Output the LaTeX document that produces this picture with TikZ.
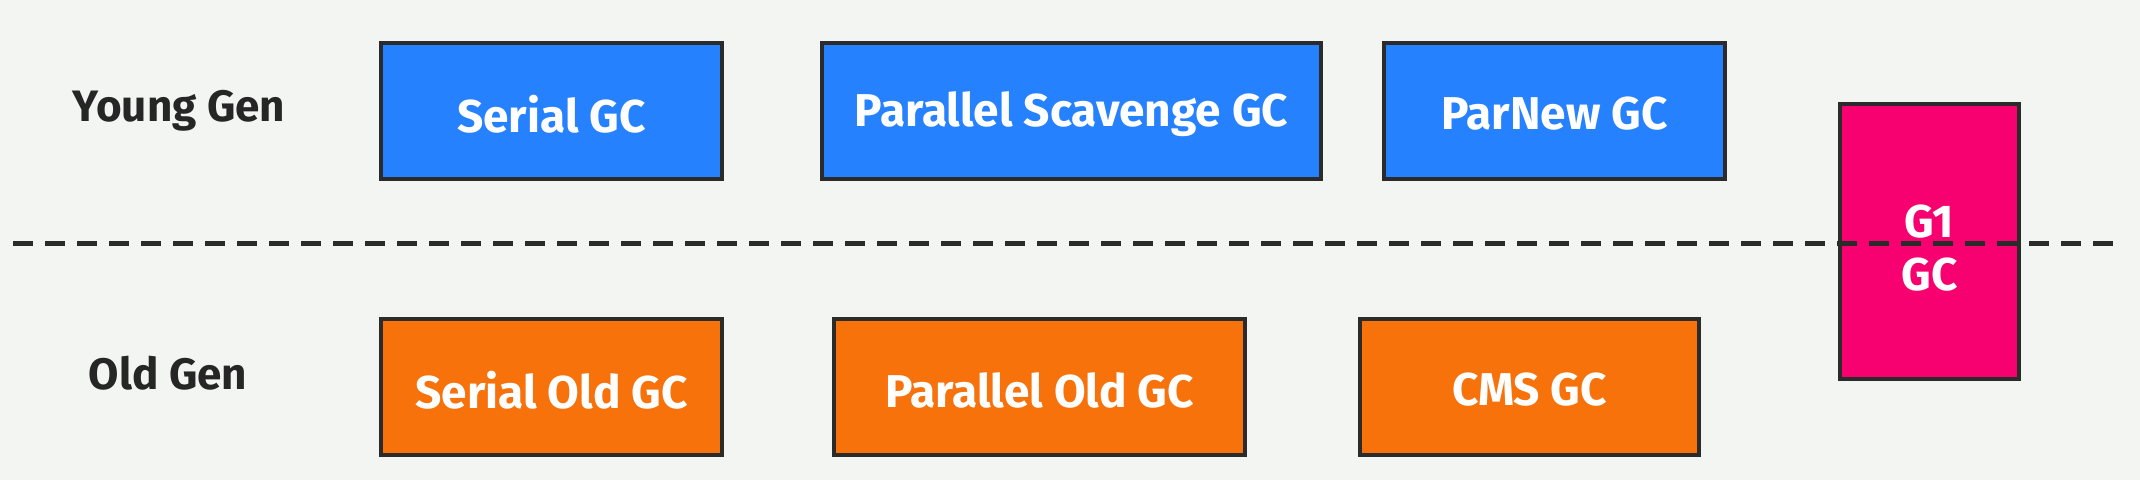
\documentclass[tikz,border=0pt]{standalone}
\usepackage{fontspec}
\setmainfont{Fira Sans}[BoldFont={Fira Sans Bold}]
\definecolor{bgc}{HTML}{F3F5F3}
\definecolor{youngc}{HTML}{2681FF}
\definecolor{oldc}{HTML}{F8720B}
\definecolor{gonec}{HTML}{F7006F}
\definecolor{edgec}{HTML}{2B2B2B}
\begin{document}
\begin{tikzpicture}[x=1pt,y=-1pt,
  gcbox/.style={draw=edgec,line width=3.5pt,inner sep=0pt},
  gctext/.style={text=white,font=\fontsize{46}{53}\selectfont\bfseries,align=center,inner sep=0pt},
  genlabel/.style={text=black!85,font=\fontsize{44}{50}\selectfont\bfseries,inner sep=0pt}]
\fill[bgc] (0,0) rectangle (2140,480);
\useasboundingbox (0,0) rectangle (2140,480);
\coordinate (dl) at (13,243);
\coordinate (dr) at (2124,243);
% boxes
\node[gcbox,fill=youngc,minimum width=341pt,minimum height=136pt] (serial) at (551.5,111) {};
\node[gcbox,fill=youngc,minimum width=499pt,minimum height=136pt] (ps) at (1071.5,111) {};
\node[gcbox,fill=youngc,minimum width=341pt,minimum height=136pt] (parnew) at (1554.5,111) {};
\node[gcbox,fill=oldc,minimum width=341pt,minimum height=136pt] (serialold) at (551.5,387) {};
\node[gcbox,fill=oldc,minimum width=411pt,minimum height=136pt] (parold) at (1039.5,387) {};
\node[gcbox,fill=oldc,minimum width=339pt,minimum height=136pt] (cms) at (1529.5,387) {};
\node[gcbox,fill=gonec,minimum width=179pt,minimum height=275pt] (g1) at (1929.5,241.5) {};
\node[gctext] (t1) at ([yshift=-3pt]serial.center) {Serial GC};
\node[gctext] (t2) at ([yshift=-3pt]ps.center) {Parallel Scavenge GC};
\node[gctext] (t3) at ([yshift=-3pt]parnew.center) {ParNew GC};
\node[gctext] (t4) at ([yshift=-3pt]serialold.center) {Serial Old GC};
\node[gctext] (t5) at ([yshift=-3pt]parold.center) {Parallel Old GC};
\node[gctext] (t6) at ([yshift=-3pt]cms.center) {CMS GC};
\node[gctext] (g1t) at (1929.5,248) {G1\\GC};
\draw[edgec,line width=5pt,dash pattern=on 20pt off 12pt] (dl) -- (dr);
\node[genlabel] (young) at (179,111) {Young Gen};
\node[genlabel] (old) at (168,373) {Old Gen};
\end{tikzpicture}
\end{document}
